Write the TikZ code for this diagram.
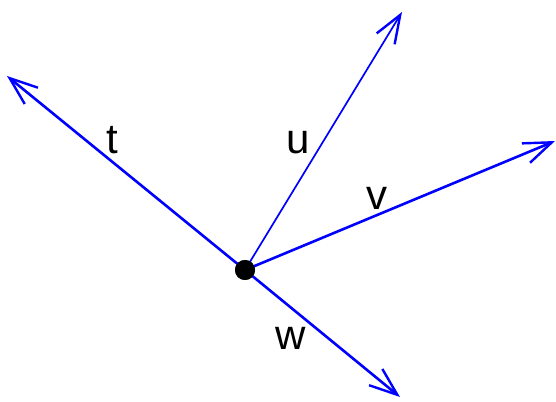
\documentclass[tikz,border=0pt]{standalone}
\usepackage{fontspec}
\setmainfont{Liberation Sans}
\usetikzlibrary{arrows.meta}
\definecolor{vblue}{RGB}{0,0,255}
\tikzset{
  vec/.style={draw=vblue, line width=2.6pt, -{Straight Barb[length=28pt,width=21pt,line width=2.4pt]}},
  thinvec/.style={vec, line width=1.7pt},
  lbl/.style={font=\fontsize{42}{42}\selectfont, inner sep=0pt, anchor=center},
  dot/.style={circle, fill=black, minimum size=20pt, inner sep=0pt},
}
\begin{document}
\begin{tikzpicture}[x=1pt,y=1pt]
\useasboundingbox (0,0) rectangle (556,401);
\coordinate (t) at (7,325);
\coordinate (u) at (402,389);
\coordinate (v) at (555,260);
\coordinate (w) at (400,4);
\node[dot] (o) at (245,131) {};
\draw[vec] (o.center) -- (t);
\draw[thinvec] (o.center) -- (u);
\draw[vec] (o.center) -- (v);
\draw[vec] (o.center) -- (w);
\node[dot] (o2) at (o) {};
\node[lbl, anchor=base] (lt) at (112,247) {t};
\node[lbl, anchor=base] (lu) at (298,247) {u};
\node[lbl, anchor=base] (lv) at (377,191) {v};
\node[lbl, anchor=base] (lw) at (291,51) {w};
\end{tikzpicture}
\end{document}
